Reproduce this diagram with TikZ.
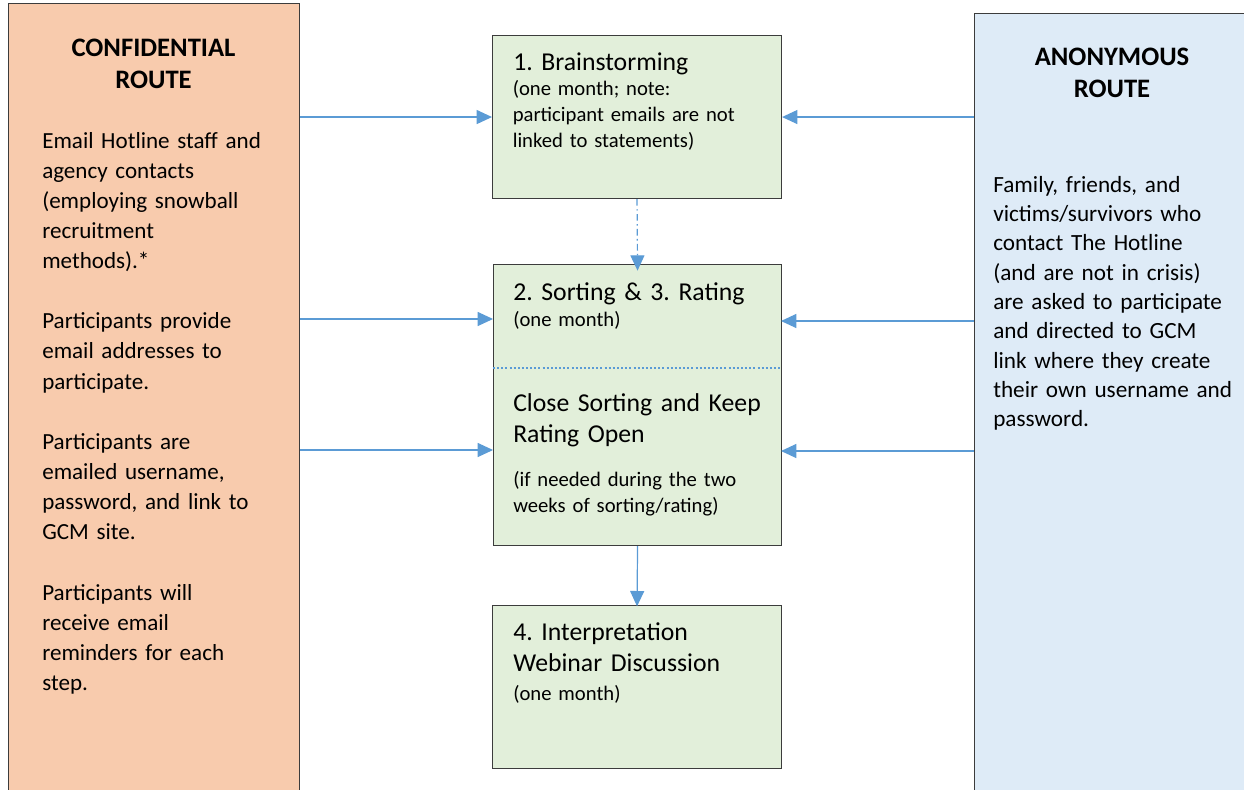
\documentclass[tikz,border=0pt]{standalone}
\usepackage{fontspec}
\setmainfont{Carlito}
\usetikzlibrary{arrows.meta}

\definecolor{peach}{RGB}{248,203,173}
\definecolor{sage}{RGB}{226,239,218}
\definecolor{sky}{RGB}{222,235,247}
\definecolor{flowblue}{RGB}{91,155,213}
\definecolor{edgegray}{RGB}{60,60,60}

\newcommand\titlefont{\fontsize{20}{24}\bfseries\selectfont}
\newcommand\bodyfont{\fontsize{17.3}{22.6}\selectfont}
\newcommand\sidefont{\fontsize{17.4}{22}\selectfont}
\newcommand\headfont{\fontsize{19.3}{23.5}\selectfont}
\newcommand\notefont{\fontsize{15.5}{19.7}\selectfont}

\begin{document}
\frenchspacing
\begin{tikzpicture}[x=0.75pt,y=0.75pt,yscale=-1,xscale=1,
  routebox/.style={draw=edgegray, line width=0.8pt, inner sep=0pt, anchor=north west},
  stepbox/.style={draw=edgegray, line width=0.8pt, fill=sage, inner sep=0pt, anchor=north west, minimum width=216.75pt},
  txt/.style={anchor=base west, inner sep=0pt, align=left, text width=210pt},
  flow/.style={draw=flowblue, line width=0.9pt, -{Triangle[length=11.5pt,width=10.5pt]}}]
\useasboundingbox (0,0) rectangle (1244,789);
\clip (0,0) rectangle (1244,789);

%Shape: Rectangle [id:conf] 
\node [routebox, fill=peach, minimum width=218.25pt, minimum height=605pt] (conf) at (8,3) {};
%Shape: Rectangle [id:anon] 
\node [routebox, fill=sky, minimum width=207pt, minimum height=598pt] (anon) at (974,13) {};
%Shape: Rectangle [id:brain] 
\node [stepbox, minimum height=122.25pt] (brain) at (492,35) {};
%Shape: Rectangle [id:sort] 
\node [stepbox, minimum width=216pt, minimum height=210.75pt] (sort) at (493,264) {};
%Shape: Rectangle [id:interp] 
\node [stepbox, minimum height=122.25pt] (interp) at (492,605) {};

%Straight Lines [id:split] 
\draw [draw=flowblue, line width=1.4pt, dash pattern={on 1.5pt off 1.6pt}] (sort.west |- 0,368) -- (sort.east |- 0,368) ;

%Straight Lines [id:conf-in] 
\coordinate (sortin) at (493,319);
\coordinate (keepin) at (493,450);
\draw [flow] (conf.east |- brain.west) -- (brain.west) ;
\draw [flow] (conf.east |- sortin) -- (sortin) ;
\draw [flow] (conf.east |- keepin) -- (keepin) ;
%Straight Lines [id:anon-in] 
\coordinate (sortout) at (781,321);
\coordinate (keepout) at (781,451);
\draw [flow] (anon.west |- brain.east) -- (brain.east) ;
\draw [flow] (anon.west |- sortout) -- (sortout) ;
\draw [flow] (anon.west |- keepout) -- (keepout) ;
%Straight Lines [id:down] 
\draw [flow, line width=0.9pt, dash pattern={on 5pt off 2.5pt on 1.2pt off 2.5pt}] (brain.south) -- ([yshift=5pt]sort.north) ;
\draw [flow] (sort.south) -- ([yshift=1pt]interp.north) ;

% Text Node
\draw (153.5,56) node [anchor=base, inner sep=0pt, align=center, text width=200pt] [font=\titlefont] {CONFIDENTIAL\\ROUTE};
% Text Node
\draw (1112,65) node [anchor=base, inner sep=0pt, align=center, text width=200pt] [font=\titlefont] {ANONYMOUS\\ROUTE};
% Text Node
\node [txt, font=\bodyfont] (conftxt) at (42,148) {Email Hotline staff and\\agency contacts\\(employing snowball\\recruitment\\methods).*\\[22.6pt]Participants provide\\email addresses to\\participate.\\[22.6pt]Participants are\\emailed username,\\password, and link to\\GCM site.\\[22.6pt]Participants will\\receive email\\reminders for each\\step.};
% Text Node
\node [txt, font=\sidefont] (anontxt) at (993,192) {Family, friends, and\\victims/survivors who\\contact The Hotline\\(and are not in crisis)\\are asked to participate\\and directed to GCM\\link where they create\\their own username and\\password.};
% Text Node
\node [txt, font=\headfont] (brainhead) at (513,70) {1. Brainstorming};
\node [txt, font=\notefont] (brainnote) at (512.5,95) {(one month; note:\\participant emails are not\\linked to statements)};
% Text Node
\node [txt, font=\headfont] (sorthead) at (513,300) {2. Sorting \& 3. Rating};
\node [txt, font=\notefont] (sortnote) at (513,326) {(one month)};
\node [txt, font=\headfont] (keephead) at (513,411.5) {Close Sorting and Keep\\Rating Open};
\node [txt, font=\notefont] (keepnote) at (513,486.5) {(if needed during the two\\weeks of sorting/rating)};
% Text Node
\node [txt, font=\headfont] (interphead) at (513,640) {4. Interpretation\\Webinar Discussion};
\node [txt, font=\notefont] (interpnote) at (513,700) {(one month)};

\end{tikzpicture}
\end{document}
